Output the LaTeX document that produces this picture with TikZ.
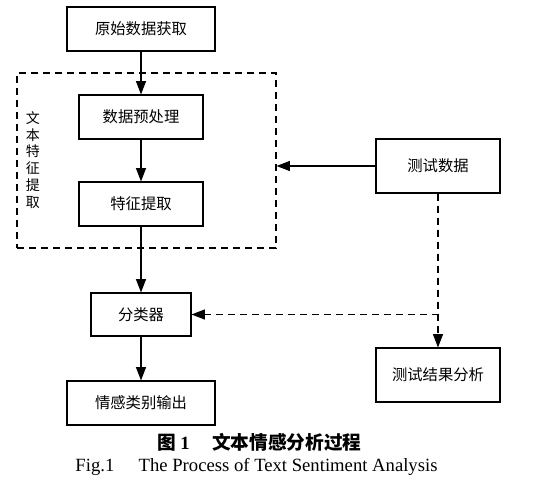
\documentclass[tikz,border=0pt]{standalone}
\usepackage{fontspec}
\setmainfont{Liberation Serif}
\newfontfamily\cjk{Noto Sans CJK SC}
\usetikzlibrary{arrows.meta}

\tikzset{
  box/.style={draw,line width=.8pt,inner sep=0pt,font=\cjk\fontsize{11.5}{14}\selectfont},
  frame/.style={draw,dashed,dash pattern=on 5.5pt off 3.5pt,line width=.8pt,inner sep=0pt},
  arr/.style={-{Triangle[length=10pt,width=7.5pt]},line width=.8pt},
  darr/.style={arr,dash pattern=on 5.5pt off 3.5pt}
}

\begin{document}
\begin{tikzpicture}[x=.75pt,y=-.75pt]
\useasboundingbox (0,0) rectangle (543,491);
% boxes
\node[box,minimum width=111pt,minimum height=33pt] (raw) at (141,29) {原始数据获取};
\node[frame,minimum width=194.25pt,minimum height=131.25pt] (frame) at (146.5,160.5) {};
\node[box,minimum width=93pt,minimum height=33pt] (pre) at (141,117) {数据预处理};
\node[box,minimum width=93pt,minimum height=33pt] (feat) at (141,204) {特征提取};
\node[font=\cjk\fontsize{10.5}{12.6}\selectfont,align=center] (side) at (33,160) {文\\本\\特\\征\\提\\取};
\node[box,minimum width=93pt,minimum height=40.5pt] (test) at (438,166) {测试数据};
\node[box,minimum width=75pt,minimum height=32.25pt] (cls) at (141,314.5) {分类器};
\node[box,minimum width=93pt,minimum height=40.5pt] (res) at (438,375) {测试结果分析};
\node[box,minimum width=111pt,minimum height=33pt] (out) at (141,403) {情感类别输出};
% connectors
\draw[arr] (raw.south) -- (pre.north);
\draw[arr] (pre.south) -- (feat.north);
\draw[arr] (test.west) -- (test.west -| frame.east);
\draw[arr] (feat.south) -- (cls.north);
\draw[arr] (cls.south) -- (out.north);
\draw[darr] (test.south) |- (cls.east);
\draw[darr] (test.south) -- (res.north);
% caption
\node[font=\cjk\bfseries\fontsize{14}{16}\selectfont] (cap) at (259.5,442) {图 {\rmfamily 1}\hspace{1.2em}文本情感分析过程};
\node[font=\fontsize{14}{16}\selectfont] (capen) at (256.5,467) {Fig.1\hspace{1.3em}The Process of Text Sentiment Analysis};
\end{tikzpicture}
\end{document}
